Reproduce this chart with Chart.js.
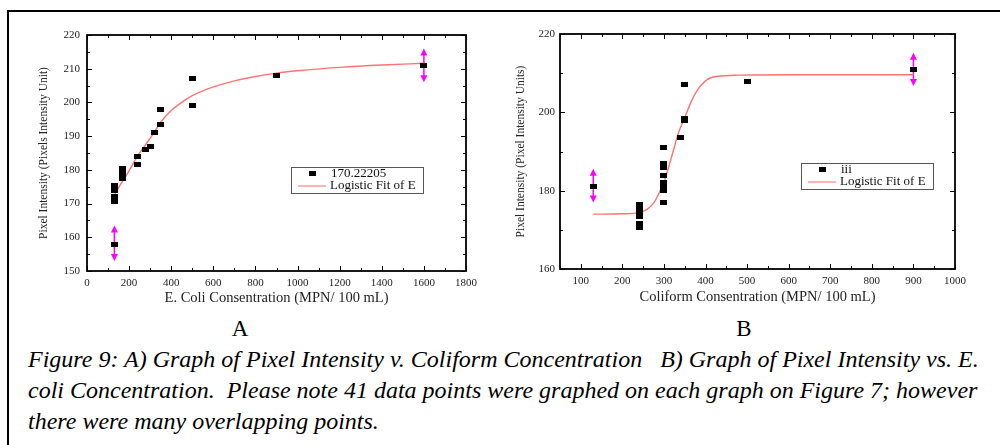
<!DOCTYPE html>
<html><head><meta charset="utf-8">
<script src="https://cdn.jsdelivr.net/npm/chart.js@4/dist/chart.umd.min.js"></script>
<style>
body{margin:0;background:#fff;width:1000px;height:445px;overflow:hidden;position:relative;font-family:"Liberation Serif","Times New Roman",Times,"DejaVu Serif",serif;color:#000}
#frame{position:absolute;left:7px;top:10px;width:1000px;height:440px;border-top:2px solid #000;border-left:2px solid #000}
#cA{position:absolute;left:0;top:0}
#cB{position:absolute;left:490px;top:0}
.lab{position:absolute;top:317px;font-size:23px;line-height:1;width:40px;text-align:center}
.cap{position:absolute;left:28px;top:344px;font-style:italic;font-size:24px;white-space:pre;line-height:31px}
</style></head>
<body>
<div id="frame"></div>
<canvas id="cA" width="490" height="310"></canvas>
<canvas id="cB" width="510" height="310"></canvas>
<div class="lab" style="left:220px">A</div>
<div class="lab" style="left:724px">B</div>
<div class="cap" id="cap">Figure 9: A) Graph of Pixel Intensity v. Coliform Concentration   B) Graph of Pixel Intensity vs. E.
coli Concentration.  Please note 41 data points were graphed on each graph on Figure 7; however
there were many overlapping points.</div>
<script>
// ---- Chart A: E. coli ----
const ecoliX = [130,130,130,130,130,170,170,170,240,240,280,300,320,350,350,500,500,900,1600];
const ecoliY = [158,170.5,172,174,175.5,177.5,179,180.5,181.5,184,186,187,191,193.5,198,199,207,208,211];
const fitAX = [130,160,195,237,280,320,351,400,450,500,600,700,774,900,1000,1200,1400,1600];
const fitAY = [172.5,175.8,179.2,183.8,187.6,191.2,194.2,197.6,200,202,204.6,206.4,207.4,208.7,209.4,210.4,211.1,211.6];
const arrowsA = [[130,153,163.5],[1600,206,216]];
const xTicksA = [0,200,400,600,800,1000,1200,1400,1600,1800];
const xMinorA = [100,300,500,700,900,1100,1300,1500,1700];
const yTicksA = [150,160,170,180,190,200,210,220];
const yMinorA = [155,165,175,185,195,205,215];
const legendA = ['170.22205','Logistic Fit of E'];

// ---- Chart B: Coliform ----
const coliX = [130,240,240,240,240,240,240,300,300,300,300,300,300,300,300,340,350,350,350,500,900];
const coliY = [181,170.5,171.5,173.5,174.5,175.5,176.5,177,180,181,182,184,186,187,191,193.5,197.8,198.5,207,207.8,211];
const fitBX = [130,200,240,260,275,290,304,322,335,350,365,380,403,430,480,600,900];
const fitBY = [174,174.1,174.4,175.3,176.8,179.8,183.5,190,194.8,198.6,202.6,205.6,208.3,209.2,209.5,209.6,209.6];
const arrowsB = [[130,177,185.6],[900,206.7,215.2]];
const xTicksB = [100,200,300,400,500,600,700,800,900,1000];
const xMinorB = [50,150,250,350,450,550,650,750,850,950];
const yTicksB = [160,180,200,220];
const yMinorB = [170,190,210];
const legendB = ['iii','Logistic Fit of E'];

const FONT = '"Liberation Serif", "Times New Roman", Times, "DejaVu Serif", serif';
const marker = document.createElement('canvas');
marker.width = 7; marker.height = 5;
(function(){const c = marker.getContext('2d'); c.fillStyle = '#000'; c.fillRect(0,0,7,5);})();

function pts(xs, ys){ return xs.map((x,i)=>({x:x, y:ys[i]})); }

const decor = {
  id:'decor',
  beforeDatasetsDraw(chart, args, o){
    const ctx = chart.ctx, xs = chart.scales.x, ys = chart.scales.y;
    ctx.save();
    ctx.strokeStyle = '#ff00ff'; ctx.fillStyle = '#ff00ff'; ctx.lineWidth = 1.5;
    o.arrows.forEach(a=>{
      const px = xs.getPixelForValue(a[0]);
      const t = ys.getPixelForValue(a[2]), b = ys.getPixelForValue(a[1]);
      ctx.beginPath(); ctx.moveTo(px, t+4); ctx.lineTo(px, b-4); ctx.stroke();
      ctx.beginPath(); ctx.moveTo(px, t); ctx.lineTo(px-3.5, t+7); ctx.lineTo(px+3.5, t+7); ctx.closePath(); ctx.fill();
      ctx.beginPath(); ctx.moveTo(px, b); ctx.lineTo(px-3.5, b-7); ctx.lineTo(px+3.5, b-7); ctx.closePath(); ctx.fill();
    });
    ctx.restore();
  },
  afterDraw(chart, args, o){
    const ctx = chart.ctx, ca = chart.chartArea, xs = chart.scales.x, ys = chart.scales.y;
    ctx.save();
    ctx.strokeStyle = '#000'; ctx.lineWidth = 1;
    const tick = (vals, len)=>{
      vals.forEach(v=>{
        const px = Math.round(xs.getPixelForValue(v))+0.5;
        ctx.beginPath(); ctx.moveTo(px, ca.bottom); ctx.lineTo(px, ca.bottom-len);
        ctx.moveTo(px, ca.top); ctx.lineTo(px, ca.top+len); ctx.stroke();
      });
    };
    const ytick = (vals, len)=>{
      vals.forEach(v=>{
        const py = Math.round(ys.getPixelForValue(v))+0.5;
        ctx.beginPath(); ctx.moveTo(ca.left, py); ctx.lineTo(ca.left+len, py);
        ctx.moveTo(ca.right, py); ctx.lineTo(ca.right-len, py); ctx.stroke();
      });
    };
    tick(o.xMajor, 5); tick(o.xMinor, 3); ytick(o.yMajor, 5); ytick(o.yMinor, 3);
    ctx.lineWidth = 1.8;
    ctx.strokeRect(ca.left, ca.top, ca.right-ca.left, ca.bottom-ca.top);
    // legend
    const L = ca.left + o.legend.dx, T = ca.top + o.legend.dy;
    ctx.lineWidth = 1; ctx.strokeStyle = '#555';
    ctx.strokeRect(L+0.5, T+0.5, 132, 26);
    ctx.drawImage(marker, L+18, T+4);
    ctx.strokeStyle = '#ff9c9c'; ctx.lineWidth = 1.5;
    ctx.beginPath(); ctx.moveTo(L+7, T+19); ctx.lineTo(L+35, T+19); ctx.stroke();
    ctx.fillStyle = '#111'; ctx.font = '13px ' + FONT; ctx.textBaseline = 'middle'; ctx.textAlign = 'left';
    ctx.fillText(o.legend.labels[0], L+40, T+7);
    ctx.fillText(o.legend.labels[1], L+39, T+19);
    ctx.restore();
  }
};

function make(id, cfg){
  return new Chart(document.getElementById(id), {
    type:'scatter',
    data:{datasets:[
      {label:cfg.legend.labels[0], data:pts(cfg.px, cfg.py), pointStyle:marker, pointRadius:4, backgroundColor:'#000', borderColor:'#000'},
      {label:cfg.legend.labels[1], data:pts(cfg.fx, cfg.fy), showLine:true, pointRadius:0, borderColor:'#ff7272', borderWidth:1.4, cubicInterpolationMode:'monotone', fill:false}
    ]},
    options:{
      responsive:false, animation:false, devicePixelRatio:1,
      layout:{padding:cfg.pad},
      plugins:{legend:{display:false}, tooltip:{enabled:false},
        decor:{arrows:cfg.arrows, xMajor:cfg.xt, xMinor:cfg.xm, yMajor:cfg.yt, yMinor:cfg.ym, legend:cfg.legend}},
      scales:{
        x:{type:'linear', min:cfg.xmin, max:cfg.xmax,
          afterBuildTicks:s=>{s.ticks = cfg.xt.map(v=>({value:v}));},
          afterFit:s=>{s.height = cfg.xh;},
          grid:{display:false, drawTicks:false}, border:{display:false},
          ticks:{padding:6, color:'#222', maxRotation:0, autoSkip:false, callback:v=>String(v), font:{family:FONT, size:11}},
          title:{display:true, text:cfg.xtitle, color:'#222', font:{family:FONT, size:14.5}, padding:{top:0, bottom:cfg.xtp}}},
        y:{type:'linear', min:cfg.ymin, max:cfg.ymax,
          afterBuildTicks:s=>{s.ticks = cfg.yt.map(v=>({value:v}));},
          afterFit:s=>{s.width = cfg.yw;},
          grid:{display:false, drawTicks:false}, border:{display:false},
          ticks:{padding:cfg.ylp, color:'#222', autoSkip:false, callback:v=>String(v), font:{family:FONT, size:11}},
          title:{display:true, text:cfg.ytitle, color:'#222', font:{family:FONT, size:11.5}, padding:{top:cfg.ytp, bottom:0}}}
      }
    },
    plugins:[decor]
  });
}

make('cA', {px:ecoliX, py:ecoliY, fx:fitAX, fy:fitAY, arrows:arrowsA,
  xt:xTicksA, xm:xMinorA, yt:yTicksA, ym:yMinorA, xmin:0, xmax:1800, ymin:150, ymax:220,
  pad:{left:0, top:35, right:24, bottom:0}, xh:39, yw:87, ylp:7, xtp:3.5, ytp:37,
  xtitle:'E. Coli Consentration (MPN/ 100 mL)', ytitle:'Pixel Intensity (Pixels Intensity Unit)',
  legend:{dx:204, dy:132, labels:legendA}});

make('cB', {px:coliX, py:coliY, fx:fitBX, fy:fitBY, arrows:arrowsB,
  xt:xTicksB, xm:xMinorB, yt:yTicksB, ym:yMinorB, xmin:50, xmax:1000, ymin:160, ymax:220,
  pad:{left:0, top:34, right:45, bottom:0}, xh:41, yw:70, ylp:5, xtp:4.5, ytp:24.5,
  xtitle:'Coliform Consentration (MPN/ 100 mL)', ytitle:'Pixel Intensity (Pixel Intensity Units)',
  legend:{dx:241, dy:129, labels:legendB}});
</script>
</body></html>
